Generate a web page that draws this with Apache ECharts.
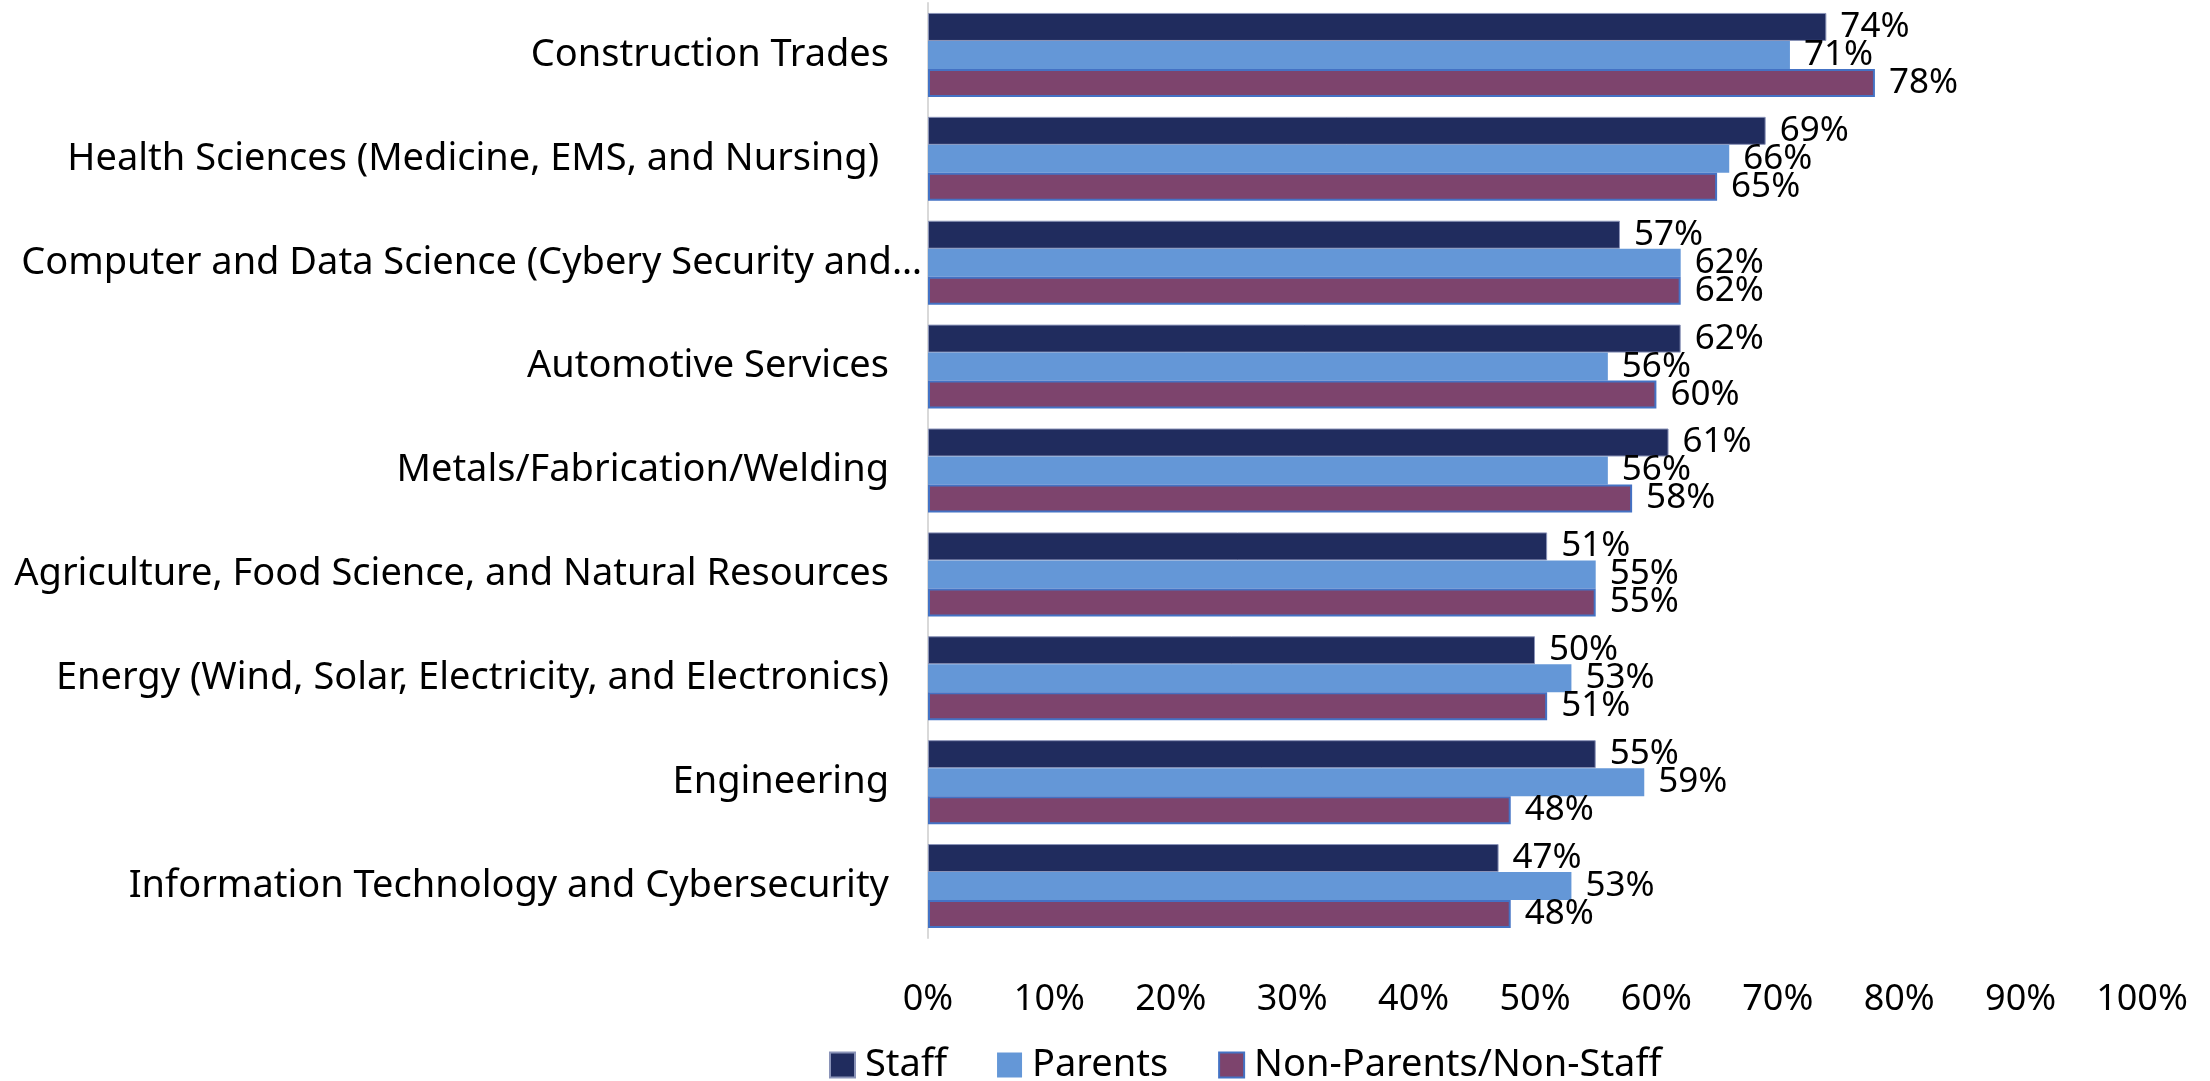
<!DOCTYPE html>
<html>
<head>
<meta charset="utf-8">
<script src="https://cdn.jsdelivr.net/npm/echarts@6/dist/echarts.min.js"></script>
<style>
    html, body { margin: 0; padding: 0; background: #fff; }
    #chart { width: 2210px; height: 1081px; }
</style>
</head>
<body>
<div id="chart"></div>
<script>
    // categories, top to bottom
    const categories = [
        'Construction Trades',
        'Health Sciences (Medicine, EMS, and Nursing) ',
        'Computer and Data Science (Cybery Security and…',
        'Automotive Services',
        'Metals/Fabrication/Welding',
        'Agriculture, Food Science, and Natural Resources',
        'Energy (Wind, Solar, Electricity, and Electronics)',
        'Engineering',
        'Information Technology and Cybersecurity'
    ];
    const staff      = [74, 69, 57, 62, 61, 51, 50, 55, 47];
    const parents    = [71, 66, 62, 56, 56, 55, 53, 59, 53];
    const nonParents = [78, 65, 62, 60, 58, 55, 51, 48, 48];
    const seriesNames = ['Staff', 'Parents', 'Non-Parents/Non-Staff'];
    const xTicks = [0, 10, 20, 30, 40, 50, 60, 70, 80, 90, 100];

    const font = 'Noto Sans';
    const colors = ['#202c5e', '#6497d7', '#7d446d'];

    const myChart = echarts.init(document.getElementById('chart'));

    const labelStyle = {
        show: true,
        position: 'right',
        distance: 14,
        color: '#000',
        fontFamily: font,
        fontSize: 35,
        formatter: p => p.value + '%'
    };

    function makeSeries(name, data, idx) {
        const s = {
            name: name,
            type: 'bar',
            data: data,
            barWidth: 28,
            barGap: '0%',
            barCategoryGap: '19%',
            itemStyle: { color: colors[idx] },
            label: labelStyle
        };
        if (idx === 0) {
            // thin light edge like the original
            s.itemStyle.borderColor = '#8a93b8';
            s.itemStyle.borderWidth = 1;
        }
        if (idx === 2) {
            s.itemStyle.borderColor = '#4472c4';
            s.itemStyle.borderWidth = 2;
        }
        return s;
    }

    const option = {
        animation: false,
        color: colors,
        grid: { left: 928, right: 68, top: 3, bottom: 143, containLabel: false },
        legend: {
            data: seriesNames,
            left: 824,
            top: 1041,
            icon: 'rect',
            itemWidth: 25,
            itemHeight: 25,
            itemGap: 50,
            textStyle: { fontFamily: font, fontSize: 38, color: '#000', padding: [0, 0, 0, 5] }
        },
        xAxis: {
            type: 'value',
            min: 0,
            max: 100,
            interval: 10,
            axisLine: { show: false },
            axisTick: { show: false },
            splitLine: { show: false },
            axisLabel: {
                margin: 44,
                color: '#000',
                fontFamily: font,
                fontSize: 36,
                formatter: v => (xTicks.indexOf(v) >= 0 ? v + '%' : '')
            }
        },
        yAxis: {
            type: 'category',
            inverse: true,
            // the cut-off label sits closer to the axis, as in the original
            data: categories.map((c, i) => i === 2 ? { value: c, textStyle: { padding: [0, -33, 0, 0] } } : c),
            axisLine: { show: true, lineStyle: { color: '#d9d9d9', width: 2 } },
            axisTick: { show: false },
            axisLabel: {
                margin: 39,
                color: '#000',
                fontFamily: font,
                fontSize: 38
            }
        },
        series: [
            makeSeries(seriesNames[0], staff, 0),
            makeSeries(seriesNames[1], parents, 1),
            makeSeries(seriesNames[2], nonParents, 2)
        ]
    };
    myChart.setOption(option);
</script>
</body>
</html>
